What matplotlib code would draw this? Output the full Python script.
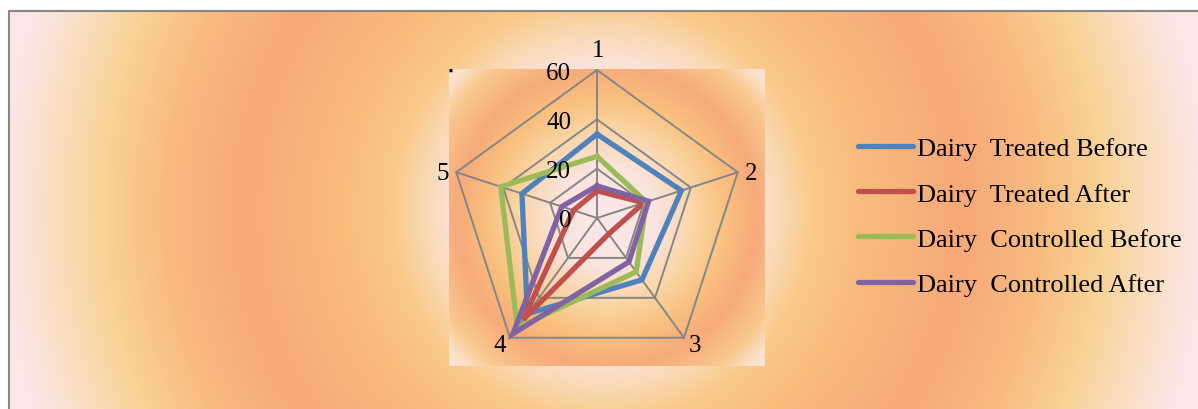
import numpy as np
import matplotlib
matplotlib.use("Agg")
import matplotlib.pyplot as plt
from matplotlib.lines import Line2D

plt.rcParams['font.family'] = ['Liberation Serif', 'DejaVu Serif']

# radar data, one value per spoke
spokes = ['1', '2', '3', '4', '5']
treated_before = [34, 36, 31, 48, 32]
treated_after = [11, 20, 8, 51, 10]
controlled_before = [25, 21, 27, 55, 41]
controlled_after = [13, 22, 22, 58, 15]
series_names = ['Dairy  Treated Before', 'Dairy  Treated After',
                'Dairy  Controlled Before', 'Dairy  Controlled After']
series_colors = ['#4F81BD', '#C0504D', '#9BBB59', '#8064A2']
ticks = [0, 20, 40, 60]
rmax = 60

W, H = 1198, 410
grid_col = '#868686'


def radial_fill(w, h, cx, cy, stops, cols):
    # colour every pixel by its distance from (cx, cy)
    yy, xx = np.mgrid[0:h, 0:w] + 0.5
    d = np.hypot(xx - cx, yy - cy)
    cols = np.array(cols) / 255.0
    img = np.zeros((h, w, 3))
    for c in range(3):
        img[..., c] = np.interp(d, stops, cols[:, c])
    return img


fig = plt.figure(figsize=(W / 100, H / 100), dpi=100)
fig.patch.set_facecolor('white')

# chart area background
bg = fig.add_axes([0, 0, 1, 1])
bg.set_xlim(0, W)
bg.set_ylim(H, 0)
bg.axis('off')
x0, y0 = 9, 12
outer = radial_fill(W - x0, H - y0, 603 - x0, 211 - y0,
                    [0, 150, 180, 210, 260, 360, 440, 500, 560, 600],
                    [(252, 232, 232), (251, 226, 214), (250, 216, 178),
                     (249, 202, 138), (248, 188, 125), (247, 168, 120),
                     (248, 188, 128), (249, 210, 150), (250, 224, 200),
                     (252, 230, 232)])
bg.imshow(outer, extent=(x0, W, H, y0), aspect='auto', interpolation='bilinear')
bg.plot([x0, x0, W], [H, y0, y0], color=grid_col, lw=1.5)

# plot area box behind the radar
px0, px1, py0, py1 = 449, 765, 70, 367
cx, cy = 597, 219
unit = 148 / rmax
ax = fig.add_axes([px0 / W, (H - py1) / H, (px1 - px0) / W, (py1 - py0) / H])
xl = ((px0 - cx) / unit, (px1 - cx) / unit)
yl = (-(py1 - cy) / unit, (cy - py0) / unit)
ax.set_xlim(*xl)
ax.set_ylim(*yl)
ax.axis('off')
inner = radial_fill(px1 - px0, py1 - py0, 607 - px0, 218 - py0,
                    [0, 50, 90, 120, 150, 185, 205, 225],
                    [(252, 232, 236), (251, 228, 222), (250, 212, 162),
                     (249, 192, 126), (247, 170, 122), (249, 200, 142),
                     (251, 225, 200), (252, 232, 236)])
ax.imshow(inner, extent=(xl[0], xl[1], yl[0], yl[1]), aspect='auto',
          interpolation='bilinear', zorder=0)
ax.plot([xl[0] + 0.2, xl[0] + 1.2], [yl[1] - 0.6, yl[1] - 0.6], color='black',
        lw=2.5, solid_capstyle='butt', zorder=1)

n = len(spokes)
ang = np.deg2rad(90 - 72 * np.arange(n))
ca, sa = np.cos(ang), np.sin(ang)

# grid rings and spokes
for t in ticks[1:]:
    ax.plot(np.append(t * ca, t * ca[0]), np.append(t * sa, t * sa[0]),
            color=grid_col, lw=1.4, zorder=2)
for k in range(n):
    ax.plot([0, rmax * ca[k]], [0, rmax * sa[k]], color=grid_col, lw=1.4, zorder=2)

# series polygons
handles = []
for vals, col, name in zip([treated_before, treated_after, controlled_before, controlled_after],
                           series_colors, series_names):
    v = np.array(vals, dtype=float)
    ax.plot(np.append(v * ca, v[0] * ca[0]), np.append(v * sa, v[0] * sa[0]),
            color=col, lw=3.8, solid_joinstyle='miter', zorder=3)
    handles.append(Line2D([], [], color=col, lw=3.8, solid_capstyle='round', label=name))

# value labels next to spoke 1
for t in ticks:
    ax.text(-10.5, t, str(t), ha='right', va='center_baseline', fontsize=18,
            zorder=4, clip_on=False)

# spoke names, offsets in pixels from each outer vertex
offs = [(1, 23), (13, 2), (11, -5), (-10, -5), (-13, 2)]
for k, lab in enumerate(spokes):
    ax.annotate(lab, (rmax * ca[k], rmax * sa[k]), xytext=offs[k],
                textcoords='offset pixels', ha='center', va='center_baseline',
                fontsize=18, annotation_clip=False)

fig.legend(handles=handles, loc='upper left', bbox_to_anchor=(858 / W, 1 - 138 / H),
           frameon=False, fontsize=19, borderpad=0, borderaxespad=0,
           handlelength=2.1, handletextpad=0.15, labelspacing=0.82)

fig.savefig('out.png', dpi=100)
